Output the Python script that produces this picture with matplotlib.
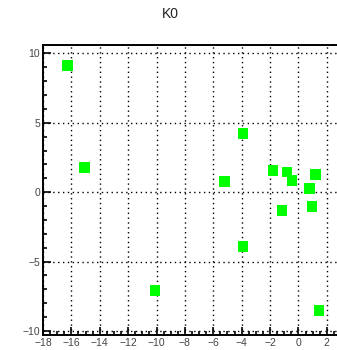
import matplotlib
matplotlib.use("Agg")
import matplotlib.pyplot as plt
from matplotlib.ticker import MultipleLocator

plt.rcParams["font.family"] = ["Liberation Sans", "DejaVu Sans"]

# K0 points
x_vals = [-16.3, -15.1, -3.9, -5.2, -1.8, -0.8, -0.45, 1.2, 0.8, -1.15, 0.95, -3.9, -10.1, 1.45]
y_vals = [9.1, 1.8, 4.2, 0.75, 1.55, 1.45, 0.85, 1.25, 0.25, -1.3, -1.05, -3.9, -7.1, -8.5]

fig = plt.figure(figsize=(3.37, 3.5), dpi=100)
# axes runs past the right edge on purpose (reference is cropped there)
ax = fig.add_axes([43 / 337, 1 - 335 / 350, 298 / 337, 290 / 350])

ax.scatter(x_vals, y_vals, marker="s", s=60, color="#00ff00", edgecolors="none", zorder=3)

ax.set_xlim(-18, 3)
ax.set_ylim(-10.29, 10.6)
ax.xaxis.set_major_locator(MultipleLocator(2))
ax.xaxis.set_minor_locator(MultipleLocator(0.5))
ax.yaxis.set_major_locator(MultipleLocator(5))
ax.yaxis.set_minor_locator(MultipleLocator(1))

ax.tick_params(which="both", direction="in", width=1.2, labelsize=7.5, pad=2,
               top=False, right=False, colors="black", labelcolor="#444444")
ax.tick_params(which="major", length=6)
ax.tick_params(which="minor", length=3)
ax.grid(True, which="major", color="black", linestyle=(0, (1, 2.5)), linewidth=1.0)

for sp in ax.spines.values():
    sp.set_linewidth(1.4)

fig.text(0.505, 1 - 14 / 350, "K0", ha="center", va="center", fontsize=10, color="#222222")

fig.savefig("out.png", dpi=100)
